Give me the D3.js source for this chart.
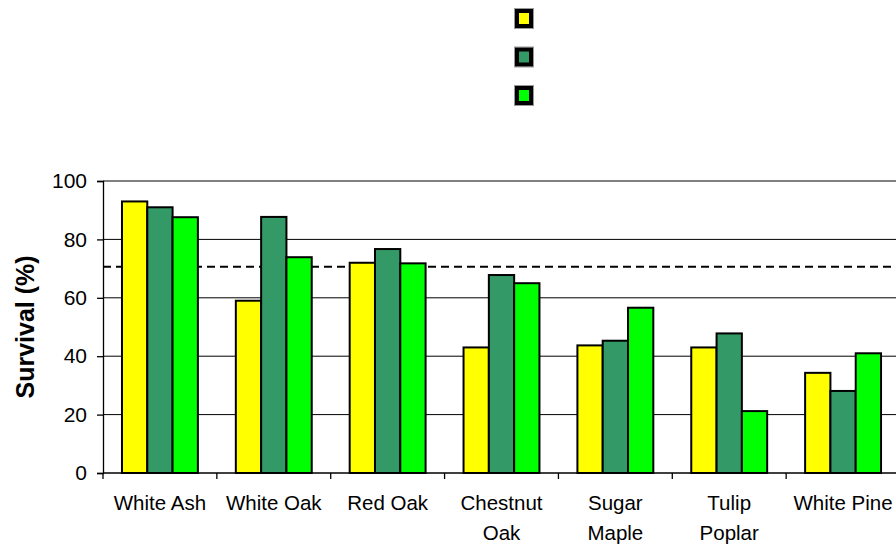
<!DOCTYPE html>
<html>
<head>
<meta charset="utf-8">
<script src="https://cdn.jsdelivr.net/npm/d3@7"></script>
<style>
  body { margin: 0; background: #fff; }
  svg { display: block; font-family: "Liberation Sans", Arial, sans-serif; }
</style>
</head>
<body>
<div id="chart"></div>
<script>
const categories = [["White Ash"], ["White Oak"], ["Red Oak"], ["Chestnut", "Oak"], ["Sugar", "Maple"], ["Tulip", "Poplar"], ["White Pine"]];
const seriesNames = ["Series 1", "Series 2", "Series 3"];
const seriesColors = ["#ffff00", "#339966", "#00ff00"];
const series1 = [93, 59, 72, 43, 43.7, 43, 34.3];
const series2 = [91, 87.7, 76.7, 67.8, 45.3, 47.8, 28.1];
const series3 = [87.6, 73.9, 71.8, 65, 56.6, 21.2, 41];
const yTicks = [0, 20, 40, 60, 80, 100];
const targetLine = 70.6;

const width = 896, height = 546;
const margin = { top: 181, right: -4, bottom: 73, left: 103 };

const svg = d3.select("#chart").append("svg")
  .attr("width", width).attr("height", height);

const catKeys = categories.map(c => c.join(" "));
const x0 = d3.scaleBand().domain(catKeys)
  .range([margin.left, width - margin.right]).padding(0);
const x1 = d3.scaleBand().domain(seriesNames)
  .range([0, x0.bandwidth()]).paddingInner(0).paddingOuter(0.75);
const y = d3.scaleLinear().domain([0, 100])
  .range([height - margin.bottom, margin.top]);

// gridlines
svg.append("g").selectAll("line").data(yTicks.slice(1)).enter().append("line")
  .attr("x1", margin.left).attr("x2", width - margin.right)
  .attr("y1", d => y(d)).attr("y2", d => y(d))
  .attr("stroke", "#000").attr("stroke-width", 1);

// target dashed line
svg.append("line")
  .attr("x1", margin.left).attr("x2", width - margin.right)
  .attr("y1", y(targetLine)).attr("y2", y(targetLine))
  .attr("stroke", "#000").attr("stroke-width", 2)
  .attr("stroke-dasharray", "8,5");

// bars
const data = [series1, series2, series3];
catKeys.forEach((cat, i) => {
  seriesNames.forEach((s, j) => {
    svg.append("rect")
      .attr("x", x0(cat) + x1(s))
      .attr("y", y(data[j][i]))
      .attr("width", x1.bandwidth())
      .attr("height", y(0) - y(data[j][i]))
      .attr("fill", seriesColors[j])
      .attr("stroke", "#000").attr("stroke-width", 2);
  });
});

// y axis
const yAxis = svg.append("g")
  .attr("transform", `translate(${margin.left},0)`)
  .call(d3.axisLeft(y).tickValues(yTicks).tickSize(6).tickPadding(10));
yAxis.select(".domain").attr("stroke", "#000").attr("stroke-width", 1.3);
yAxis.selectAll(".tick line").attr("stroke", "#000").attr("stroke-width", 1.3);
yAxis.selectAll("text").attr("font-size", 21).attr("fill", "#000")
  .attr("font-family", "Liberation Sans, Arial, sans-serif");

// x axis line and ticks between categories
svg.append("line")
  .attr("x1", margin.left).attr("x2", width - margin.right)
  .attr("y1", y(0)).attr("y2", y(0))
  .attr("stroke", "#000").attr("stroke-width", 1.5);
svg.append("g").selectAll("line").data(d3.range(categories.length + 1)).enter().append("line")
  .attr("x1", i => margin.left + i * x0.step()).attr("x2", i => margin.left + i * x0.step())
  .attr("y1", y(0)).attr("y2", y(0) + 6)
  .attr("stroke", "#000").attr("stroke-width", 1.3);

// category labels
categories.forEach((lines, i) => {
  const t = svg.append("text")
    .attr("x", x0(catKeys[i]) + x0.bandwidth() / 2)
    .attr("y", 510)
    .attr("text-anchor", "middle")
    .attr("font-size", 20.5).attr("fill", "#000");
  lines.forEach((l, k) => {
    t.append("tspan").attr("x", x0(catKeys[i]) + x0.bandwidth() / 2)
      .attr("dy", k === 0 ? 0 : 30).text(l);
  });
});

// y title
svg.append("text")
  .attr("transform", `translate(34,${(y(0) + y(100)) / 2}) rotate(-90)`)
  .attr("text-anchor", "middle")
  .attr("font-size", 25).attr("font-weight", "bold").attr("fill", "#000")
  .text("Survival (%)");

// legend (swatches only)
const legend = svg.append("g");
seriesNames.forEach((s, j) => {
  legend.append("rect")
    .attr("x", 514.5).attr("y", 8.5 + j * 38.5)
    .attr("width", 19).attr("height", 20)
    .attr("fill", "none").attr("stroke", "#999").attr("stroke-width", 1);
  legend.append("rect")
    .attr("x", 517).attr("y", 11 + j * 38.5)
    .attr("width", 14).attr("height", 15)
    .attr("fill", seriesColors[j])
    .attr("stroke", "#000").attr("stroke-width", 4);
});
</script>
</body>
</html>
